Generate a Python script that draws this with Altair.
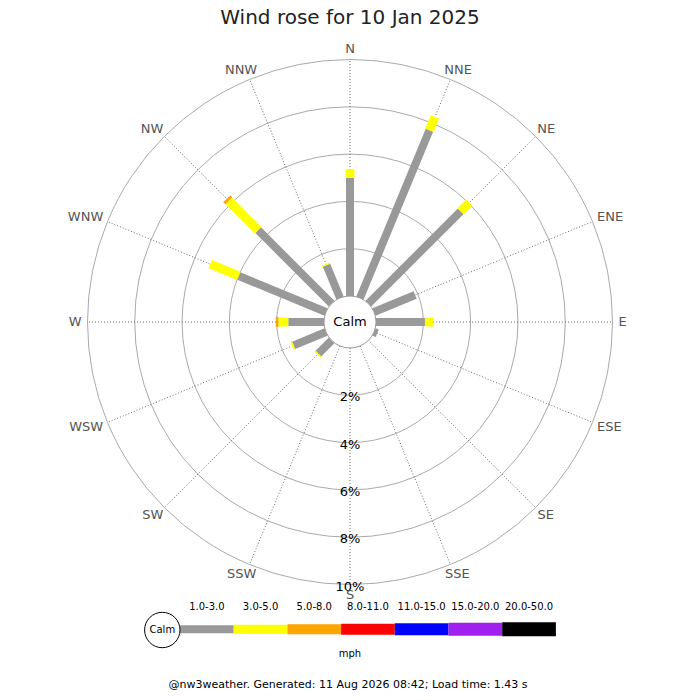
import math
import altair as alt
import pandas as pd

# ---------------- data ----------------
title_text = "Wind rose for 10 Jan 2025"
footer_text = "@nw3weather. Generated: 11 Aug 2026 08:42; Load time: 1.43 s"
unit_text = "mph"

directions = ["N", "NNE", "NE", "ENE", "E", "ESE", "SE", "SSE",
              "S", "SSW", "SW", "WSW", "W", "WNW", "NW", "NNW"]
bands = ["1.0-3.0", "3.0-5.0", "5.0-8.0", "8.0-11.0",
         "11.0-15.0", "15.0-20.0", "20.0-50.0"]
band_colors = ["#999999", "#ffff00", "#ffa500", "#ff0000",
               "#0000ff", "#a020f0", "#000000"]
band_widths = [8, 14, 20, 23, 25, 27, 28.5]

# percentage of the day per direction and speed band (mph)
pct_1_3 = [5.00, 7.68, 5.52, 1.88, 2.07, 0.15, 0, 0, 0, 0, 0.79, 1.48, 1.51, 3.99, 4.39, 1.50]
pct_3_5 = [0.36, 0.60, 0.51, 0, 0.35, 0, 0, 0, 0, 0, 0.06, 0.07, 0.42, 1.30, 1.76, 0.05]
pct_5_8 = [0, 0, 0, 0, 0, 0, 0, 0, 0, 0, 0, 0, 0.11, 0, 0.12, 0]

ring_pcts = [2, 4, 6, 8, 10]
ring_labels = ["2%", "4%", "6%", "8%", "10%"]

# ---------------- layout ----------------
W, H = 684, 682
CX, CY = 342, 314          # rose centre in plot coordinates
PX = 23.65                 # pixels per percent
CALM = 26                  # calm circle radius (0 %)
R_OUT = CALM + 10 * PX
FONT = "DejaVu Sans"

xs = alt.Scale(domain=[-CX, W - CX], nice=False, zero=False)
ys = alt.Scale(domain=[-(H - CY), CY], nice=False, zero=False)
rs = alt.Scale(type="linear", domain=[0, 400], range=[0, 400], zero=True)
col_scale = alt.Scale(domain=bands, range=band_colors)
sw_scale = alt.Scale(domain=bands, range=band_widths)

# stacked bars table
series = [pct_1_3, pct_3_5, pct_5_8]
rows = []
for i, d in enumerate(directions):
    cum = 0.0
    for b, s in zip(bands, series):
        v = s[i]
        if v > 0:
            rows.append(dict(dir=d, i=i, band=b, start=cum, end=cum + v))
            cum += v
bars_df = pd.DataFrame(rows)

bars = alt.Chart(bars_df).transform_calculate(
    ang="datum.i * PI / 8",
    r0=f"{CALM} + datum.start * {PX}",
    r1=f"{CALM} + datum.end * {PX}",
).transform_calculate(
    x0="datum.r0 * sin(datum.ang)", y0="datum.r0 * cos(datum.ang)",
    x1="datum.r1 * sin(datum.ang)", y1="datum.r1 * cos(datum.ang)",
).mark_rule(strokeCap="butt").encode(
    x=alt.X("x0:Q", scale=xs, axis=None),
    y=alt.Y("y0:Q", scale=ys, axis=None),
    x2="x1:Q", y2="y1:Q",
    color=alt.Color("band:N", scale=col_scale, legend=None),
    strokeWidth=alt.StrokeWidth("band:N", scale=sw_scale, legend=None),
)

# spokes
dir_df = pd.DataFrame({"dir": directions, "i": list(range(16))})
spokes = alt.Chart(dir_df).transform_calculate(
    ang="datum.i * PI / 8",
).transform_calculate(
    x0=f"{CALM} * sin(datum.ang)", y0=f"{CALM} * cos(datum.ang)",
    x1=f"{R_OUT} * sin(datum.ang)", y1=f"{R_OUT} * cos(datum.ang)",
).mark_rule(color="#444444", strokeWidth=0.8, strokeDash=[1, 2]).encode(
    x=alt.X("x0:Q", scale=xs, axis=None),
    y=alt.Y("y0:Q", scale=ys, axis=None),
    x2="x1:Q", y2="y1:Q",
)

# rings
ring_df = pd.DataFrame({"pct": ring_pcts, "label": ring_labels})
rings = alt.Chart(ring_df).transform_calculate(
    r=f"{CALM} + datum.pct * {PX}", zero="0"
).mark_arc(filled=False, stroke="#aaaaaa", strokeWidth=1, theta=0, theta2=2 * math.pi).encode(
    x=alt.X("zero:Q", scale=xs, axis=None),
    y=alt.Y("zero:Q", scale=ys, axis=None),
    radius=alt.Radius("r:Q", scale=rs, stack=None),
)
ring_text = alt.Chart(ring_df).transform_calculate(
    r=f"-({CALM} + datum.pct * {PX})", zero="0"
).mark_text(font=FONT, fontSize=13, color="#000000", dy=2).encode(
    x=alt.X("zero:Q", scale=xs, axis=None),
    y=alt.Y("r:Q", scale=ys, axis=None),
    text="label:N",
)

# direction labels (text box pushed outward from the spoke end)
cw = {"N": 1532, "E": 1294, "S": 1300, "W": 2025}
lab_rows = []
for i, d in enumerate(directions):
    a = i * math.pi / 8
    w = sum(cw[c] for c in d) * 13 / 2048
    lab_rows.append(dict(dir=d,
                         lx=(268.5 + w / 2) * math.sin(a),
                         ly=(268.5 + 4.75) * math.cos(a)))
lab_df = pd.DataFrame(lab_rows)
dir_text = alt.Chart(lab_df).mark_text(font=FONT, fontSize=13, color="#555555",
                                       baseline="middle").encode(
    x=alt.X("lx:Q", scale=xs, axis=None),
    y=alt.Y("ly:Q", scale=ys, axis=None),
    text="dir:N",
)

# calm circle
calm_df = pd.DataFrame({"label": ["Calm"], "x": [0], "y": [0], "r": [CALM]})
calm_c = alt.Chart(calm_df).mark_arc(fill="white", stroke="#999999", strokeWidth=1,
                                     theta=0, theta2=2 * math.pi).encode(
    x=alt.X("x:Q", scale=xs, axis=None), y=alt.Y("y:Q", scale=ys, axis=None),
    radius=alt.Radius("r:Q", scale=rs, stack=None),
)
calm_t = alt.Chart(calm_df).mark_text(font=FONT, fontSize=13, color="#000000").encode(
    x=alt.X("x:Q", scale=xs, axis=None), y=alt.Y("y:Q", scale=ys, axis=None),
    text="label:N",
)

# legend
LEG_X0, LEG_SEG, LEG_Y = -170, 53.7, -307.3
leg_df = pd.DataFrame({"band": bands, "k": list(range(len(bands)))})
leg_base = alt.Chart(leg_df).transform_calculate(
    x0=f"{LEG_X0} + datum.k * {LEG_SEG}",
    x1=f"{LEG_X0} + (datum.k + 1) * {LEG_SEG}",
    xm=f"{LEG_X0} + (datum.k + 0.5) * {LEG_SEG}",
    y=f"{LEG_Y}", yl=f"{LEG_Y} + 22.6",
)
leg_bars = leg_base.mark_rule(strokeCap="butt").encode(
    x=alt.X("x0:Q", scale=xs, axis=None), x2="x1:Q",
    y=alt.Y("y:Q", scale=ys, axis=None),
    color=alt.Color("band:N", scale=col_scale, legend=None),
    strokeWidth=alt.StrokeWidth("band:N", scale=sw_scale, legend=None),
)
leg_labels = leg_base.mark_text(font=FONT, fontSize=10, color="#000000").encode(
    x=alt.X("xm:Q", scale=xs, axis=None),
    y=alt.Y("yl:Q", scale=ys, axis=None),
    text="band:N",
)
leg_calm_df = pd.DataFrame({"label": ["Calm"], "x": [-187.7], "y": [-308], "r": [17.7]})
leg_calm_c = alt.Chart(leg_calm_df).mark_arc(fill="white", stroke="#000000", strokeWidth=1,
                                             theta=0, theta2=2 * math.pi).encode(
    x=alt.X("x:Q", scale=xs, axis=None), y=alt.Y("y:Q", scale=ys, axis=None),
    radius=alt.Radius("r:Q", scale=rs, stack=None),
)
leg_calm_t = alt.Chart(leg_calm_df).mark_text(font=FONT, fontSize=10, color="#000000").encode(
    x=alt.X("x:Q", scale=xs, axis=None), y=alt.Y("y:Q", scale=ys, axis=None),
    text="label:N",
)

text_df = pd.DataFrame({"t": [0]})
title = alt.Chart(text_df).mark_text(font=FONT, fontSize=20, color="#222222",
                                     baseline="alphabetic", text=title_text).encode(
    x=alt.value(342), y=alt.value(16))
unit = alt.Chart(text_df).mark_text(font=FONT, fontSize=10, color="#000000",
                                    text=unit_text).encode(
    x=alt.value(342), y=alt.value(646))
footer = alt.Chart(text_df).mark_text(font=FONT, fontSize=11, color="#000000",
                                      baseline="alphabetic", text=footer_text).encode(
    x=alt.value(340), y=alt.value(680))

chart = alt.layer(
    rings, spokes, bars, calm_c, calm_t, ring_text, dir_text,
    leg_bars, leg_calm_c, leg_calm_t, leg_labels,
    title, unit, footer,
).properties(
    width=W, height=H, autosize=alt.AutoSizeParams(type="none"), padding=0,
    background="white",
).configure_view(stroke=None)

chart.save("out.html", embed_options={"renderer": "svg", "actions": False})
